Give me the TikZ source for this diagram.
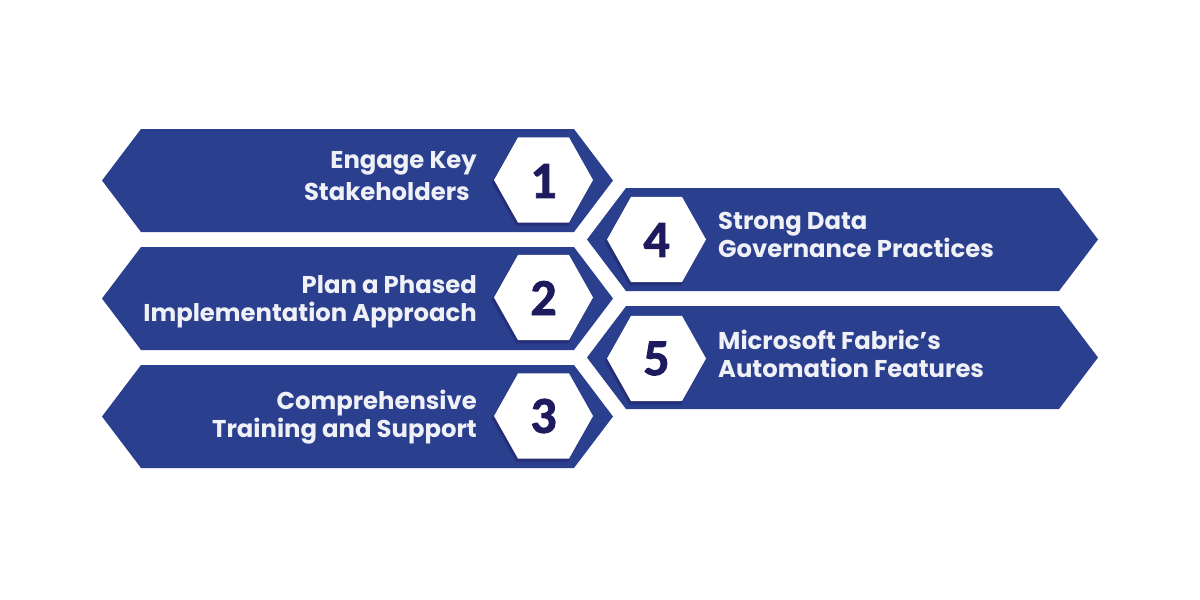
\documentclass[tikz,border=0pt]{standalone}
\usepackage{fontspec}
\setmainfont{Poppins}
\newfontfamily\numfont{Carlito}[BoldFeatures={FakeBold=1.5}]
\definecolor{bannerblue}{HTML}{2B3F8F}
\definecolor{numnavy}{HTML}{1D1B5E}
\definecolor{labelwhite}{HTML}{F0F1F6}
\tikzset{>=stealth,
  hexshade/.style={fill=numnavy, opacity=0.3},
  lefttext/.style={text=labelwhite, font=\fontsize{24.3}{28}\selectfont\bfseries, align=right, anchor=east, inner sep=0pt},
  righttext/.style={text=labelwhite, font=\fontsize{24.3}{28}\selectfont\bfseries, align=left, anchor=west, inner sep=0pt},
  numtext/.style={text=numnavy, font=\fontsize{52}{52}\selectfont\numfont\bfseries, inner sep=0pt},
  banner/.pic={
    \fill[bannerblue] (-255.5,0) -- (-216.5,-51.5) -- (216.5,-51.5) -- (255.5,0) -- (216.5,51.5) -- (-216.5,51.5) -- cycle;
  },
  hexagon/.pic={
    \fill[hexshade] (-52,3) -- (-27.5,46) -- (24.5,46) -- (48,3) -- (24.5,-40) -- (-27.5,-40) -- cycle;
    \fill[hexshade] (-51,1.5) -- (-26.5,44.5) -- (25,44.5) -- (48.5,1.5) -- (25,-41) -- (-26.5,-41) -- cycle;
    \fill[white] (-49.5,0) -- (-25.5,-42.6) -- (25.5,-42.6) -- (49.5,0) -- (25.5,42.6) -- (-25.5,42.6) -- cycle;
  }
}
\begin{document}
\begin{tikzpicture}[x=1pt, y=-1pt]
     \useasboundingbox (0,0) rectangle (1200,600);
     % left column
     \pic at (357.5,180.5) {banner};
     \pic at (357.5,298.5) {banner};
     \pic at (357.5,416.5) {banner};
     % right column
     \pic at (842.5,239.5) {banner};
     \pic at (842.5,357.5) {banner};
     % hexagons
     \pic at (543.5,180) {hexagon};
     \pic at (543.5,297.5) {hexagon};
     \pic at (543.5,416) {hexagon};
     \pic at (656.5,239.5) {hexagon};
     \pic at (656.5,358.5) {hexagon};
     % numbers
     \node [numtext] (num1) at (543.5,181) {1};
     \node [numtext] (num2) at (543.5,298) {2};
     \node [numtext] (num3) at (543.5,416) {3};
     \node [numtext] (num4) at (656.5,240) {4};
     \node [numtext] (num5) at (656.5,358.5) {5};
     % labels
     \node [lefttext] (engage) at (477,176) {Engage Key\\[4pt]Stakeholders\hspace*{7pt}};
     \node [lefttext] (plan) at (477,302) {Plan a Phased\\Implementation Approach};
     \node [lefttext] (training) at (477,417.5) {Comprehensive\\Training and Support};
     \node [righttext] (strong) at (718,235) {Strong Data\\Governance Practices};
     \node [righttext] (fabric) at (718,354) {Microsoft Fabric’s\\Automation Features};
\end{tikzpicture}
\end{document}
